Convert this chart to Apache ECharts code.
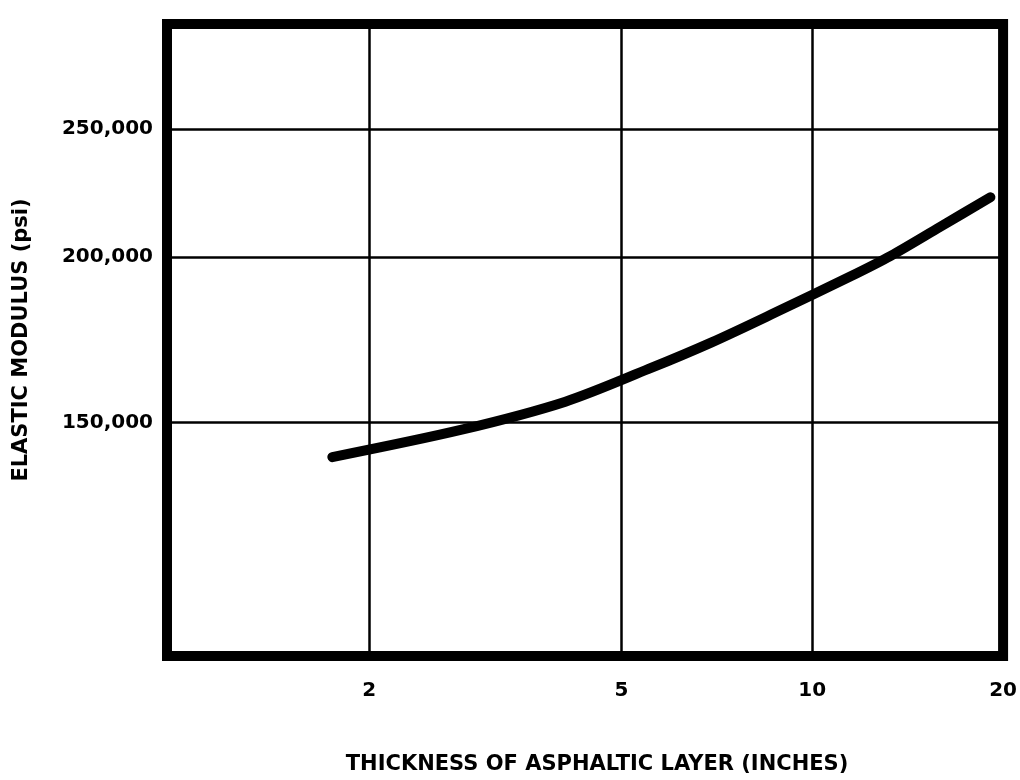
<!DOCTYPE html>
<html>
<head>
<meta charset="utf-8">
<script src="https://cdn.jsdelivr.net/npm/echarts@6/dist/echarts.min.js"></script>
<style>html,body{margin:0;padding:0;background:#fff}#c{width:1020px;height:780px}</style>
</head>
<body>
<div id="c"></div>
<script>
// Data (log-log chart)
const thickness = [1.75, 2.8, 4.08, 5.52, 6.94, 8.71, 11.5, 13.3, 15.9, 19.1];
const modulus   = [141300, 148200, 155600, 164700, 172500, 181500, 193500, 200500, 210800, 222000];
const xTicks = [2, 5, 10, 20];
const yTicks = [150000, 200000, 250000];
const xTitle = 'THICKNESS OF ASPHALTIC LAYER (INCHES)';
const yTitle = 'ELASTIC MODULUS (psi)';

const chart = echarts.init(document.getElementById('c'), null, {renderer: 'canvas'});
const font = 'DejaVu Sans';
const pts = thickness.map((t, i) => [t, modulus[i]]);

chart.setOption({
  animation: false,
  backgroundColor: '#fff',
  grid: {left: 167, right: 15, top: 24, bottom: 115, show: true, borderColor: '#000', borderWidth: 10, backgroundColor: 'transparent'},
  xAxis: {
    type: 'log', min: 0.96, max: 20,
    name: xTitle, nameLocation: 'middle', nameGap: 98,
    nameTextStyle: {fontFamily: font, fontWeight: 'bold', fontSize: 21, color: '#000', padding: [0, 0, 0, 24]},
    axisLine: {show: false},
    axisTick: {show: false, customValues: xTicks},
    axisLabel: {customValues: xTicks, fontFamily: font, fontWeight: 'bold', fontSize: 20, color: '#000', margin: 25, showMaxLabel: true},
    splitLine: {show: true, lineStyle: {color: '#000', width: 2.5}}
  },
  yAxis: {
    type: 'log', min: 100000, max: 300000,
    name: yTitle, nameLocation: 'middle', nameGap: 135, nameRotate: 90,
    nameTextStyle: {fontFamily: font, fontWeight: 'bold', fontSize: 21, color: '#000', padding: [0, 0, 0, 0]},
    axisLine: {show: false},
    axisTick: {show: false, customValues: yTicks},
    axisLabel: {customValues: yTicks, fontFamily: font, fontWeight: 'bold', fontSize: 20, color: '#000', margin: 14,
      formatter: v => Math.round(v).toLocaleString('en-US')},
    splitLine: {show: true, lineStyle: {color: '#000', width: 2.5}}
  },
  series: [{
    type: 'line', data: pts, smooth: 0.3, symbol: 'none',
    lineStyle: {color: '#000', width: 10, cap: 'round', join: 'round'}
  }]
});
</script>
</body>
</html>
